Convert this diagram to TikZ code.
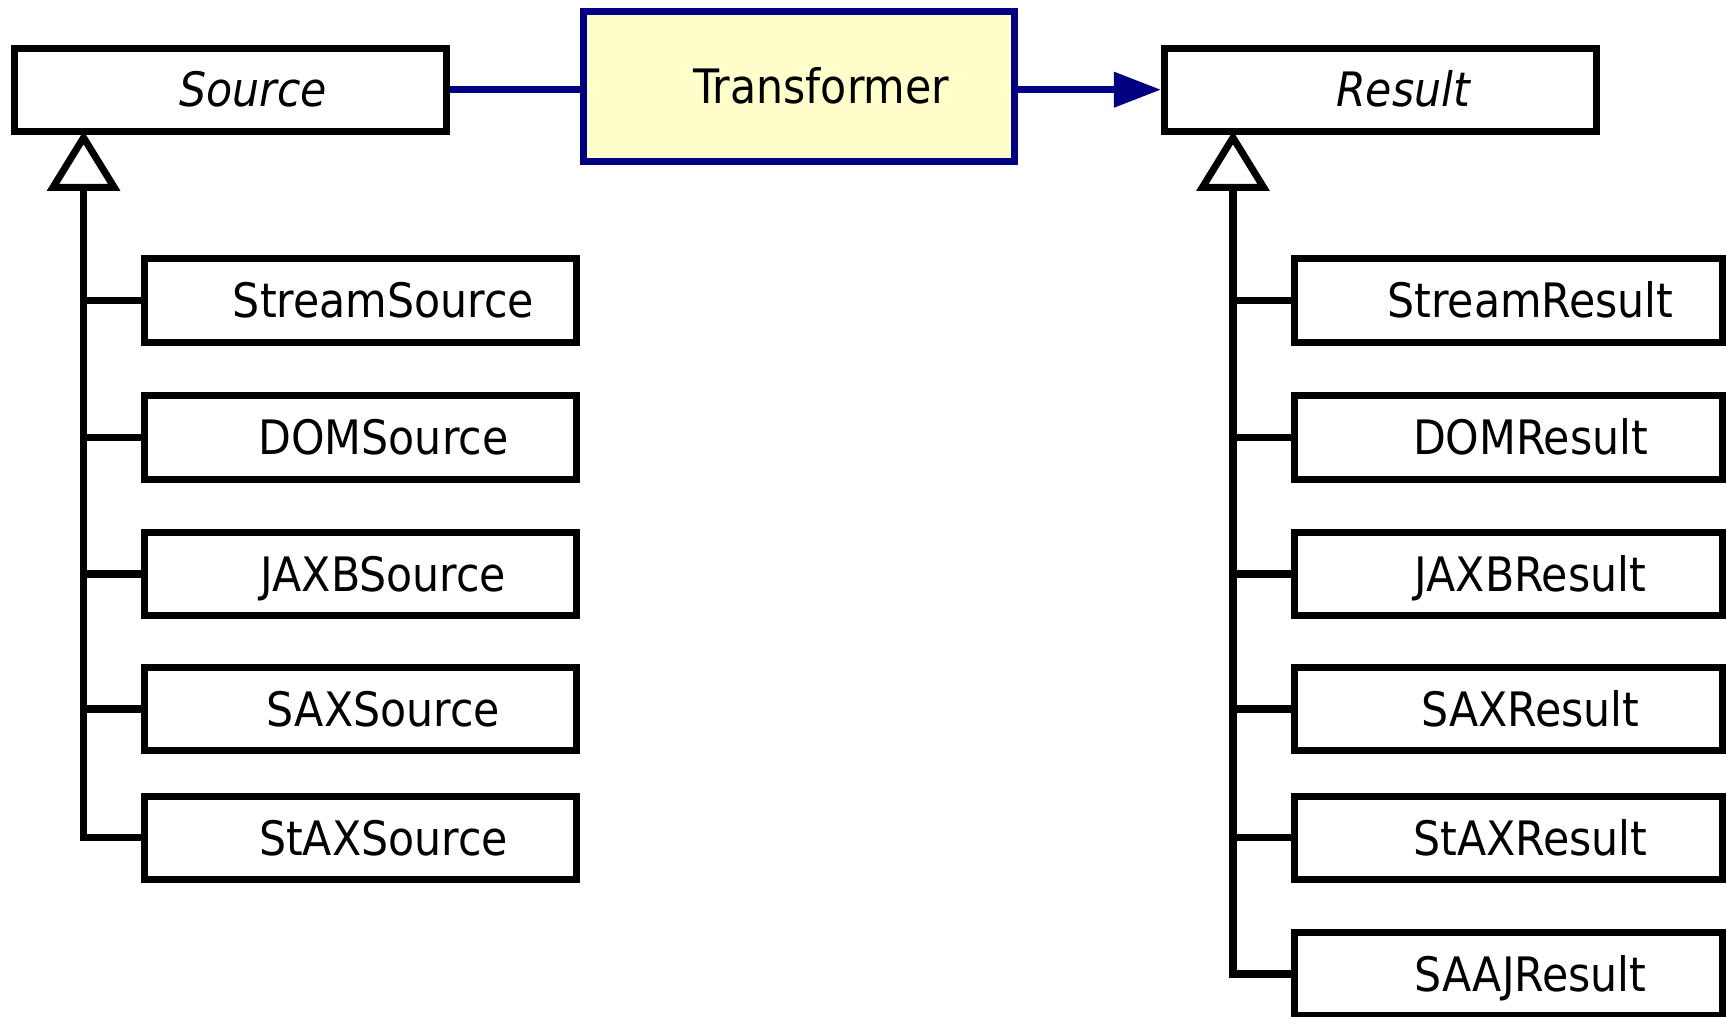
\documentclass[tikz,border=0pt]{standalone}
\usepackage{fontspec}
\setmainfont{DejaVu Sans Condensed}
\usetikzlibrary{arrows.meta}
\definecolor{umlnavy}{RGB}{0,0,128}
\definecolor{umlyellow}{RGB}{255,255,204}

\begin{document}
\begin{tikzpicture}[
  cls/.style={draw, line width=2pt, minimum width=4.32cm, minimum height=0.833cm,
    inner sep=0pt, text height=1.0em, text depth=0.02em,
    font=\fontsize{13.5pt}{16pt}\selectfont, execute at begin node={\hspace*{0.45cm}}},
  abstract/.style={cls, font=\fontsize{13.5pt}{16pt}\selectfont\itshape},
  engine/.style={cls, draw=umlnavy, fill=umlyellow, minimum width=4.315cm, minimum height=1.496cm},
  subres/.style={cls, minimum width=4.28cm},
  assoc/.style={draw=umlnavy, line width=2pt},
  tree/.style={line width=2pt},
  inherit/.style={tree, -{Triangle[open, length=0.6cm, width=0.72cm]}}
]
\useasboundingbox (0,-10.17) rectangle (17.26,0);
% top row
\node[abstract] (source) at (2.306,-0.897) {Source};
\node[engine] (transformer) at (7.99,-0.865) {Transformer};
\node[abstract] (result) at (13.805,-0.897) {Result};
\draw[assoc] (source.east) -- (source.east -| transformer.west);
\draw[assoc, -{Triangle[length=0.47cm, width=0.34cm]}] (transformer.east |- result.west) -- (result.west);
% sources
\node[cls] (streamsrc) at (3.609,-3.005) {StreamSource};
\node[cls] (domsrc) at (3.609,-4.374) {DOMSource};
\node[cls] (jaxbsrc) at (3.609,-5.74) {JAXBSource};
\node[cls] (saxsrc) at (3.609,-7.09) {SAXSource};
\node[cls] (staxsrc) at (3.609,-8.379) {StAXSource};
\coordinate (srcapex) at ([xshift=0.725cm, yshift=0.04cm]source.south west);
\draw[inherit] (staxsrc.west) -| (srcapex);
\draw[tree] (streamsrc.west) -- (streamsrc.west -| srcapex);
\draw[tree] (domsrc.west) -- (domsrc.west -| srcapex);
\draw[tree] (jaxbsrc.west) -- (jaxbsrc.west -| srcapex);
\draw[tree] (saxsrc.west) -- (saxsrc.west -| srcapex);
% results
\node[subres] (streamres) at (15.08,-3.005) {StreamResult};
\node[subres] (domres) at (15.08,-4.374) {DOMResult};
\node[subres] (jaxbres) at (15.08,-5.74) {JAXBResult};
\node[subres] (saxres) at (15.08,-7.09) {SAXResult};
\node[subres] (staxres) at (15.08,-8.379) {StAXResult};
\node[subres] (saajres) at (15.08,-9.74) {SAAJResult};
\coordinate (resapex) at ([xshift=0.72cm, yshift=0.04cm]result.south west);
\draw[inherit] (saajres.west) -| (resapex);
\draw[tree] (streamres.west) -- (streamres.west -| resapex);
\draw[tree] (domres.west) -- (domres.west -| resapex);
\draw[tree] (jaxbres.west) -- (jaxbres.west -| resapex);
\draw[tree] (saxres.west) -- (saxres.west -| resapex);
\draw[tree] (staxres.west) -- (staxres.west -| resapex);
\end{tikzpicture}
\end{document}
